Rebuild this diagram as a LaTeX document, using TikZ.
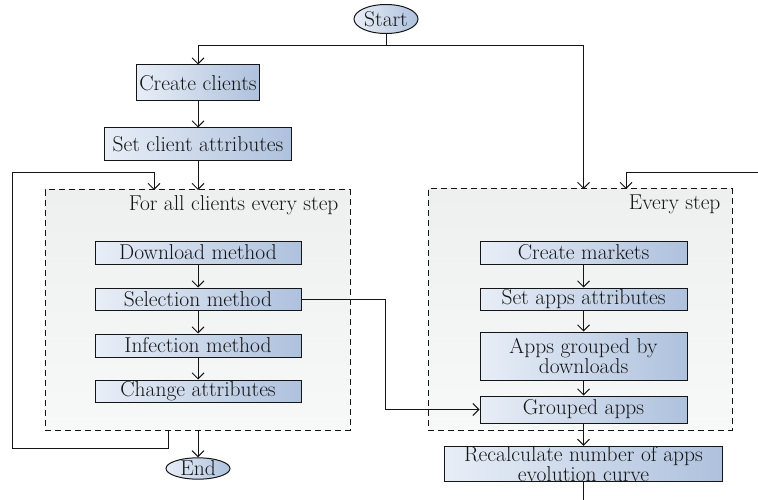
\documentclass[tikz,border=0pt]{standalone}
\usetikzlibrary{arrows.meta,shapes.geometric}
\definecolor{boxL}{HTML}{E8EEF7}
\definecolor{boxR}{HTML}{AEC1DD}
\definecolor{contT}{HTML}{EEEFEF}
\definecolor{contB}{HTML}{F7F8F8}
\definecolor{ink}{HTML}{151515}
\tikzset{
  every node/.style={font=\fontsize{21.5}{22}\selectfont, text=ink},
  proc/.style={draw=ink, line width=1pt, left color=boxL, right color=boxR, shading angle=90, rectangle, inner sep=0pt, align=center},
  term/.style={draw=ink, line width=1pt, left color=boxL, right color=boxR, ellipse, inner sep=0pt},
  cont/.style={draw=ink, dashed, dash pattern=on 6pt off 4pt, line width=1pt, top color=contT, bottom color=contB, rectangle, inner sep=0pt},
  conn/.style={draw=ink, line width=1pt},
  arr/.style={conn, -{Straight Barb[length=6pt,width=12pt,line width=1pt]}},
}
\begin{document}
\begin{tikzpicture}[x=1pt,y=-1pt]
\useasboundingbox (0,0) rectangle (758,500);
% containers
\node[cont, minimum width=305, minimum height=240] (lc) at (197.5,310) {};
\node[cont, minimum width=304, minimum height=241] (rcn) at (580,309.5) {};
\node[anchor=east] (lcl) at (342,205) {For all clients every step};
\node[anchor=east] (rcl) at (724,204) {Every step};
% terminals
\node[term, minimum width=64, minimum height=29] (start) at (386,19) {Start};
\node[term, minimum width=64, minimum height=21] (end) at (198,468.5) {End};
% left boxes
\node[proc, minimum width=123, minimum height=36] (cc) at (198,83) {Create clients};
\node[proc, minimum width=187, minimum height=33] (sca) at (198,144.5) {Set client attributes};
\node[proc, minimum width=206, minimum height=23] (dm) at (198,252.5) {Download method};
\node[proc, minimum width=206, minimum height=22] (sm) at (198,299) {Selection method};
\node[proc, minimum width=206, minimum height=23] (im) at (198,345.5) {Infection method};
\node[proc, minimum width=206, minimum height=22] (ca) at (198,391) {Change attributes};
% right boxes
\node[proc, minimum width=207, minimum height=23] (cm) at (583.5,252.5) {Create markets};
\node[proc, minimum width=207, minimum height=22] (saa) at (583.5,299) {Set apps attributes};
\node[proc, minimum width=207, minimum height=48, font=\fontsize{21.5}{20}\selectfont] (agd) at (583.5,356) {Apps grouped by\\downloads};
\node[proc, minimum width=207, minimum height=27] (ga) at (583.5,409.5) {Grouped apps};
\node[proc, minimum width=278, minimum height=32, font=\fontsize{21.5}{15}\selectfont] (rc) at (583.5,464) {Recalculate number of apps\\evolution curve};
% helper coordinates
\coordinate (sj) at (386,46);
\coordinate (rin) at (583.5,189);
\coordinate (lin) at (198,190);
\coordinate (lout) at (198,430);
\coordinate (lo1) at (168,430);
\coordinate (lo2) at (168,448);
\coordinate (lo3) at (12,448);
\coordinate (lo4) at (12,173);
\coordinate (lo5) at (154,173);
\coordinate (lo6) at (154,190);
\coordinate (ro1) at (758,173);
\coordinate (ro2) at (626,173);
\coordinate (ro3) at (626,189);
\coordinate (bot) at (583.5,500);
\coordinate (sx) at (385,298);
% connectors
\draw[conn] (start.south) -- (sj);
\draw[arr] (sj) -| (cc.north);
\draw[arr] (sj) -| (rin);
\draw[arr] (cc.south) -- (sca.north);
\draw[arr] (sca.south) -- (lin);
\draw[arr] (dm.south) -- (sm.north);
\draw[arr] (sm.south) -- (im.north);
\draw[arr] (im.south) -- (ca.north);
\draw[arr] (lout) -- (end.north);
\draw[arr] (lo1) -- (lo2) -- (lo3) -- (lo4) -- (lo5) -- (lo6);
\draw[arr] (cm.south) -- (saa.north);
\draw[arr] (saa.south) -- (agd.north);
\draw[arr] (agd.south) -- (ga.north);
\draw[arr] (ga.south) -- (rc.north);
\draw[arr] (ro1) -- (ro2) -- (ro3);
\draw[conn] (rc.south) -- (bot);
\draw[arr] (sm.east) -- (sm.east -| sx) |- (ga.west);
\end{tikzpicture}
\end{document}
